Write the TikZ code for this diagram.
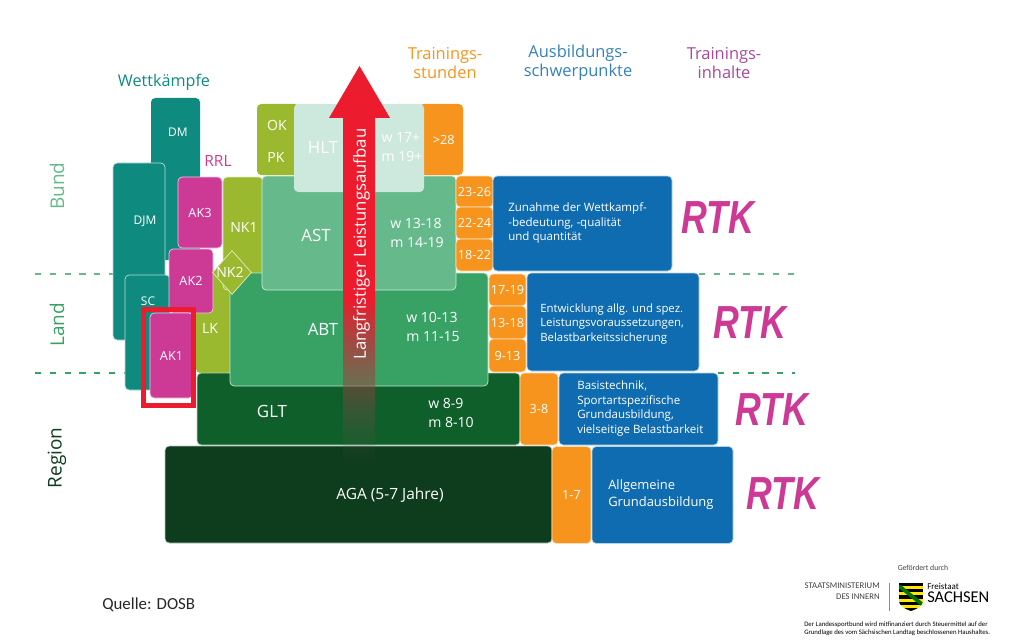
\documentclass[tikz,border=0pt]{standalone}
\usepackage{fontspec}
\setmainfont{Open Sans}
\newfontfamily\rtkfont{Liberation Sans}
\newfontfamily\notefont{Carlito}
\usetikzlibrary{shapes.geometric,fadings}
\definecolor{tealblock}{HTML}{0E8A7E}
\definecolor{pinkblock}{HTML}{CC3A96}
\definecolor{oliveblock}{HTML}{9AB92E}
\definecolor{hltgreen}{HTML}{CDE8DC}
\definecolor{astgreen}{HTML}{66B98A}
\definecolor{abtgreen}{HTML}{37A264}
\definecolor{gltgreen}{HTML}{0F5F2B}
\definecolor{agagreen}{HTML}{0D3D1C}
\definecolor{orangeblock}{HTML}{F7941D}
\definecolor{blueblock}{HTML}{0F6CB0}
\definecolor{arrowred}{HTML}{EC1C2E}
\definecolor{inhaltcolor}{HTML}{A8489A}
\definecolor{shaftend}{HTML}{5A5A52}
\tikzset{
  size/.style 2 args={minimum width=#1*0.025cm,minimum height=#2*0.025cm},
  block/.style={rounded corners=3pt,inner sep=0pt,text=white,align=center,font=\fontsize{9}{11}\selectfont},
  rim/.style={draw=white!70!#1,line width=0.5pt,fill=#1},
  blocktext/.style 2 args={text=white,inner sep=0pt,align=left,font=\fontsize{#1}{#2}\selectfont},
  bluetext/.style 2 args={text=white,inner sep=0pt,align=left,anchor=west,font=\fontsize{#1}{#2}\selectfont},
  headtext/.style={text=#1,inner sep=0pt,align=center,font=\fontsize{11.7}{13.5}\selectfont},
  leveltext/.style={text=#1,inner sep=0pt,rotate=90,font=\fontsize{13.5}{16}\selectfont},
  rtk/.style={text=pinkblock,inner sep=0pt,font=\rtkfont\bfseries\itshape\fontsize{33}{33}\selectfont},
  footer/.style 2 args={inner sep=0pt,text=black!75,font=\notefont\fontsize{#1}{#2}\selectfont},
  levelline/.style={draw=#1,line width=1.2pt,dash pattern=on 4.5pt off 6pt},
}
\tikzfading[name=shaftfade,top color=transparent!0,bottom color=transparent!100]
\def\blocknode{\node[block]}
\def\rtkmark{\scalebox{0.77}[1]{RTK}}
\begin{document}
\begin{tikzpicture}[x=0.025cm,y=-0.025cm]
\useasboundingbox (0,0) rectangle (1024,643);
% level lines
\coordinate (upperl) at (35,274);
\coordinate (upperm) at (113,274);
\coordinate (upperr) at (699,274);
\coordinate (uppere) at (795,274);
\coordinate (lowerl) at (35,373);
\coordinate (lowerm) at (125,373);
\coordinate (lowerr) at (718,373);
\coordinate (lowere) at (795,373);
\draw[levelline=astgreen] (upperl) -- (upperm);
\draw[levelline=astgreen] (upperr) -- (uppere);
\draw[levelline=abtgreen] (lowerl) -- (lowerm);
\draw[levelline=abtgreen] (lowerr) -- (lowere);
% headings
\node[leveltext=astgreen] (bund) at (57,186) {Bund};
\node[leveltext=abtgreen] (land) at (57,325) {Land};
\node[leveltext=agagreen] (region) at (57,458) {Region};
\node[headtext=tealblock,font=\fontsize{11.5}{13.5}\selectfont] (wett) at (164,82) {Wettkämpfe};
\node[headtext=pinkblock,font=\fontsize{11}{13}\selectfont] (rrl) at (218,161) {RRL};
\node[headtext=orangeblock] (stunden) at (445,63) {Trainings-\\stunden};
\node[headtext=blueblock!85] (schwer) at (578,63) {Ausbildungs-\\schwerpunkte};
\node[headtext=inhaltcolor] (inhalte) at (724,63) {Trainings-\\inhalte};
% olive under the pink blocks
\blocknode[fill=oliveblock,size={36}{102}] (lk) at (214,322) {};
\node[blocktext={10}{12.5}] (lktext) at (210,328) {LK};
\blocknode[rim=oliveblock,size={40}{113}] (nk1) at (243,233.5) {};
\node[blocktext={10}{12.5}] (nk1text) at (244,227) {NK1};
% wettkaempfe
\blocknode[fill=tealblock,size={49}{162}] (dm) at (175.5,179) {};
\node[blocktext={8.5}{10.5}] (dmtext) at (178,132) {DM};
\blocknode[rim=tealblock,size={52}{177}] (djm) at (139,251.5) {};
\node[blocktext={8.5}{10.5}] (djmtext) at (145,221) {DJM};
\blocknode[rim=tealblock,size={45}{115}] (sc) at (147.5,332.5) {};
\node[blocktext={8.5}{10.5}] (sctext) at (148,301) {SC};
\blocknode[rim=pinkblock,size={44}{71}] (ak3) at (200,212.5) {AK3};
\blocknode[rim=pinkblock,size={44}{64}] (ak2) at (191,281) {AK2};
\blocknode[rim=pinkblock,size={43}{85}] (ak1) at (171.5,355.5) {AK1};
\node[draw=arrowred,line width=3pt,inner sep=0pt,size={50}{96}] (mark) at (168.5,357.5) {};
% stufen
\blocknode[rim=agagreen,size={387}{97}] (aga) at (358.5,494.5) {};
\node[blocktext={11}{14}] (agatext) at (390,495) {AGA (5-7 Jahre)};
\blocknode[rim=gltgreen,size={323}{72}] (glt) at (358.5,409) {};
\node[blocktext={12}{15}] (glttext) at (272,411) {GLT};
\node[blocktext={10}{13.5}] (gltage) at (451,413) {w 8-9\\m 8-10};
\blocknode[rim=abtgreen,size={258}{113}] (abt) at (359,329.5) {};
\node[blocktext={12}{15}] (abttext) at (323,329) {ABT};
\node[blocktext={10}{13.5}] (abtage) at (433,327) {w 10-13\\m 11-15};
\node[diamond,rim=oliveblock,inner sep=0pt,size={39}{44}] (nk2) at (232,272.5) {};
\node[blocktext={10}{12.5}] (nk2text) at (230,272) {NK2};
\blocknode[rim=astgreen,size={194}{114}] (ast) at (359,233) {};
\node[blocktext={12}{15}] (asttext) at (316,235) {AST};
\node[blocktext={10}{13.5}] (astage) at (417,232.5) {w 13-18\\m 14-19};
\blocknode[fill=oliveblock,size={42}{71}] (okpk) at (278,139.5) {};
\node[blocktext={10}{12.5}] (oktext) at (277,125) {OK};
\node[blocktext={10}{12.5}] (pktext) at (276,157) {PK};
\blocknode[fill=orangeblock,size={44}{71}] (h28) at (441,139.5) {\hspace*{4pt}>28};
\blocknode[fill=hltgreen,size={130}{88}] (hlt) at (359,148) {};
\node[blocktext={12}{15}] (hlttext) at (323,147) {HLT};
\node[blocktext={10}{13.5}] (hltage) at (402,147.5) {w 17+\\m 19+};
% stunden
\blocknode[rim=orangeblock,size={37}{31}] (h2326) at (474.5,191.5) {23-26};
\blocknode[rim=orangeblock,size={37}{32}] (h2224) at (474.5,223) {22-24};
\blocknode[rim=orangeblock,size={37}{32}] (h1822) at (474.5,255) {18-22};
\blocknode[rim=orangeblock,size={37}{32}] (h1719) at (507.5,290) {17-19};
\blocknode[rim=orangeblock,size={37}{33}] (h1318) at (507.5,322.5) {13-18};
\blocknode[rim=orangeblock,size={37}{33}] (h913) at (507.5,355.5) {9-13};
\blocknode[rim=orangeblock,size={38}{72}] (h38) at (539,409) {3-8};
\blocknode[rim=orangeblock,size={39}{97}] (h17) at (571.5,495) {1-7};
% schwerpunkte
\blocknode[rim=blueblock,size={179}{95}] (blue1) at (582.5,223.5) {};
\node[bluetext={8.2}{10.1}] (blue1text) at (508,223) {Zunahme der Wettkampf-\\-bedeutung, -qualität\\und quantität};
\blocknode[rim=blueblock,size={172}{98}] (blue2) at (613,322) {};
\node[bluetext={8.1}{10.1}] (blue2text) at (540,324) {Entwicklung allg. und spez.\\Leistungsvoraussetzungen,\\Belastbarkeitssicherung};
\blocknode[rim=blueblock,size={159}{72}] (blue3) at (638.5,409) {};
\node[bluetext={8.2}{10.3}] (blue3text) at (577,408.5) {Basistechnik,\\Sportartspezifische\\Grundausbildung,\\vielseitige Belastbarkeit};
\blocknode[rim=blueblock,size={141}{97}] (blue4) at (662.5,495) {};
\node[bluetext={9.2}{12}] (blue4text) at (608,495) {Allgemeine\\Grundausbildung};
\node[rtk] (rtk1) at (718,218) {\rtkmark};
\node[rtk] (rtk2) at (750,323) {\rtkmark};
\node[rtk] (rtk3) at (772,410) {\rtkmark};
\node[rtk] (rtk4) at (783,494) {\rtkmark};
% pfeil
\fill[arrowred] (359.5,66) -- (390,118) -- (375,118) -- (375,301) -- (343,301) -- (343,118) -- (329,118) -- cycle;
\shade[top color=arrowred,bottom color=shaftend,path fading=shaftfade,fit fading=true] (343,300) rectangle (375,465);
\node[inner sep=0pt,text=white,rotate=90,font=\fontsize{11.9}{14}\selectfont] (aufbau) at (361.5,244) {Langfristiger Leistungsaufbau};
% fusszeile
\node[footer={12}{14},text=black!85,anchor=west] (quelle) at (102,605) {Quelle: DOSB};
\node[footer={5.5}{7}] (foerder) at (923,568) {Gefördert durch};
\node[footer={6.2}{7},anchor=east] (minist) at (880,586) {STAATSMINISTERIUM};
\node[footer={6.2}{7},anchor=east] (innern) at (880,597) {DES INNERN};
\coordinate (sepa) at (889,583);
\coordinate (sepb) at (889,611);
\draw[black!45,line width=0.5pt] (sepa) -- (sepb);
\begin{scope}
\clip (899,583) -- (923,583) -- (923,600) .. controls (923,607) and (916,609) .. (911,611) .. controls (906,609) and (899,607) .. (899,600) -- cycle;
\fill[yellow!90!orange] (899,583) rectangle (923,611);
\foreach \y in {583,589.2,595.4,601.6,607.8} \fill[black] (899,\y) rectangle (923,\y+3.1);
\draw[green!45!black,line width=2.6pt] (899,586) -- (923,605);
\end{scope}
\node[footer={6.4}{8},text=black,anchor=west] (freistaat) at (927,586) {Freistaat};
\node[footer={11.7}{14},text=black,anchor=west] (sachsen) at (927,597.5) {SACHSEN};
\node[footer={4.8}{5.6},anchor=west,align=left,text=black] (note) at (804,629) {Der Landessportbund wird mitfinanziert durch Steuermittel auf der\\Grundlage des vom Sächsischen Landtag beschlossenen Haushaltes.};
\end{tikzpicture}
\end{document}
